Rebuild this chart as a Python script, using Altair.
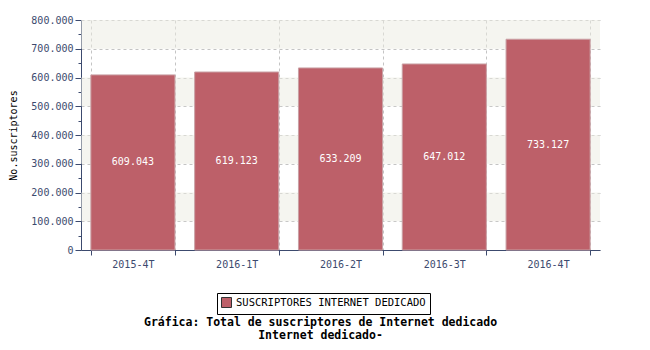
import altair as alt
import pandas as pd

periods = ["2015-4T", "2016-1T", "2016-2T", "2016-3T", "2016-4T"]
values = [609043, 619123, 633209, 647012, 733127]
labels = ["609.043", "619.123", "633.209", "647.012", "733.127"]
series_name = "SUSCRIPTORES INTERNET DEDICADO"
band_starts = [100000, 300000, 500000, 700000]
band_size = 100000

df = pd.DataFrame({"periodo": periods, "valor": values, "etiqueta": labels,
                   "serie": [series_name] * len(periods)})
bands = pd.DataFrame({"y0": band_starts, "y1": [b + band_size for b in band_starts]})

FONT = "DejaVu Sans Mono"
AX = "#3c4a6e"

yscale = alt.Scale(domain=[0, 800000], nice=False, zero=True)
xscale = alt.Scale(domain=periods, paddingInner=0.19, paddingOuter=0.095)

yaxis = alt.Axis(title="No.suscriptores", titleFont=FONT, titleFontSize=10,
                 titleFontWeight="normal", titleColor="#000000", titlePadding=12,
                 values=list(range(0, 800001, 50000)),
                 labelOverlap=False,
                 labelExpr="datum.value % 100000 === 0 ? replace(format(datum.value, ','), ',', '.') : ''",
                 labelFont=FONT, labelFontSize=10, labelColor=AX,
                 domainColor=AX, tickColor=AX,
                 tickSize={"condition": {"test": "datum.value % 100000 === 0", "value": 6}, "value": 3},
                 grid=True, gridDash=[3, 3], gridColor="#c4c4c4",
                 gridOpacity={"condition": {"test": "datum.value % 100000 === 0", "value": 1}, "value": 0})

band_layer = alt.Chart(bands).mark_rect(color="#ebebe1", opacity=0.5).encode(
    y=alt.Y("y0:Q", scale=yscale, axis=yaxis),
    y2="y1:Q",
)

bars = alt.Chart(df).mark_bar(color="#bd6069", stroke="#c9a0a5", strokeWidth=1).encode(
    x=alt.X("periodo:N", scale=xscale, sort=periods,
            axis=alt.Axis(title=None, tickBand="extent", labelFont=FONT, labelFontSize=10,
                          labelColor=AX, domainColor=AX, tickColor=AX, tickSize=5,
                          labelAngle=0, labelPadding=4,
                          grid=True, gridDash=[3, 3], gridColor="#c4c4c4")),
    y=alt.Y("valor:Q", scale=yscale, axis=yaxis),
    fill=alt.Fill("serie:N", scale=alt.Scale(domain=[series_name], range=["#bd6069"]),
                  legend=alt.Legend(title=None, orient="none", legendX=136, legendY=273,
                                    direction="horizontal", fillColor="white", strokeColor="#000000",
                                    padding=4, symbolType="square", symbolSize=100,
                                    symbolStrokeColor="#333333", symbolStrokeWidth=1,
                                    labelLimit=400,
                                    labelFont=FONT, labelFontSize=10.5, labelColor="#000000")),
)

text = alt.Chart(df).transform_calculate(mid="datum.valor / 2").mark_text(
    color="white", font=FONT, fontSize=10, baseline="middle"
).encode(
    x=alt.X("periodo:N", scale=xscale, sort=periods),
    y=alt.Y("mid:Q", scale=yscale, axis=yaxis),
    text="etiqueta:N",
)

chart = alt.layer(band_layer, bars, text).properties(
    width=519, height=230,
    autosize=alt.AutoSizeParams(type="none"),
    padding={"left": 73, "top": 12, "right": 42, "bottom": 92},
    title=alt.TitleParams(
        text=["Gráfica: Total de suscriptores de Internet dedicado", "Internet dedicado-"],
        orient="bottom", anchor="middle", font=FONT, fontSize=11.5, fontWeight="bold",
        color="#000000", offset=2, dx=-20, lineHeight=13,
    ),
).configure_view(stroke=None)

chart.save("out.html", embed_options={"renderer": "svg", "actions": False})
